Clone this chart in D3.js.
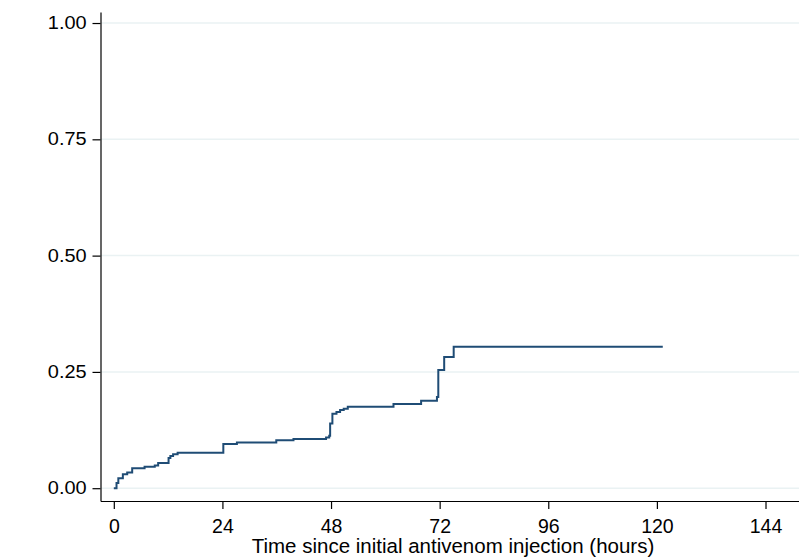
<!DOCTYPE html>
<html>
<head>
<meta charset="utf-8">
<script src="https://cdn.jsdelivr.net/npm/d3@7"></script>
<style>
  body { margin: 0; background: #fff; }
  svg text { font-family: "Liberation Sans", Arial, sans-serif; }
</style>
</head>
<body>
<div id="chart"></div>
<script>
// Cumulative incidence (step function)
var hours = [0, 0.15, 0.6, 1.0, 2.0, 2.96, 4.06, 6.8, 9.05, 9.8, 12.1, 12.5, 13.1, 14.1,
             24.2, 27.2, 35.9, 39.7, 46.9, 47.6, 47.8, 48.3, 49.2, 50.0, 50.8, 51.7,
             61.8, 67.9, 71.4, 71.7, 72.0, 73.0, 75.1, 121.3];
var incidence = [0, 0.0, 0.011, 0.0215, 0.030, 0.034, 0.043, 0.046, 0.049, 0.054, 0.065, 0.069, 0.073, 0.076,
                 0.095, 0.098, 0.103, 0.106, 0.109, 0.1125, 0.139, 0.160, 0.164, 0.168, 0.171, 0.175,
                 0.181, 0.188, 0.196, 0.254, 0.254, 0.282, 0.304, 0.304];
var xTicks = [0, 24, 48, 72, 96, 120, 144];
var yTicks = [0, 0.25, 0.5, 0.75, 1];

var svgWidth = 799, svgHeight = 558;

var svg = d3.select("#chart")
  .append("svg")
  .attr("width", svgWidth)
  .attr("height", svgHeight);

var xScale = d3.scaleLinear()
  .domain([-2.94, 151.4])
  .range([100.5, 799]);

var yScale = d3.scaleLinear()
  .domain([-0.0275, 1.0237])
  .range([501, 12]);

// gridlines
svg.append("g")
  .selectAll("line")
  .data(yTicks)
  .enter().append("line")
  .attr("x1", 101)
  .attr("x2", 799)
  .attr("y1", d => yScale(d))
  .attr("y2", d => yScale(d))
  .attr("stroke", "#eaf2f3")
  .attr("stroke-width", 1.5);

// step line
var line = d3.line()
  .x((d, i) => xScale(hours[i]))
  .y(d => yScale(d))
  .curve(d3.curveStepAfter);

svg.append("path")
  .datum(incidence)
  .attr("fill", "none")
  .attr("stroke", "#1f4c75")
  .attr("stroke-width", 2)
  .attr("d", line);

// axes
var xAxis = svg.append("g")
  .attr("transform", "translate(0,501)")
  .call(d3.axisBottom(xScale).tickValues(xTicks).tickSize(8).tickSizeOuter(0).tickPadding(10));

var yAxis = svg.append("g")
  .attr("transform", "translate(100.5,0)")
  .call(d3.axisLeft(yScale).tickValues(yTicks).tickSize(8).tickSizeOuter(0)
    .tickFormat(d3.format(".2f")));

[xAxis, yAxis].forEach(function(g) {
  g.selectAll("path, line").attr("stroke", "#000").attr("stroke-width", 1.2);
  g.selectAll("text").attr("fill", "#000");
});

xAxis.selectAll("text").style("font-size", "19.5px");

// y labels look horizontally stretched in the original
yAxis.selectAll("text")
  .style("font-size", "17.5px")
  .attr("x", -12.2)
  .attr("transform", "scale(1.14,1)");

svg.append("text")
  .attr("x", 453)
  .attr("y", 552.7)
  .attr("text-anchor", "middle")
  .style("font-size", "20.5px")
  .attr("fill", "#000")
  .text("Time since initial antivenom injection (hours)");
</script>
</body>
</html>
